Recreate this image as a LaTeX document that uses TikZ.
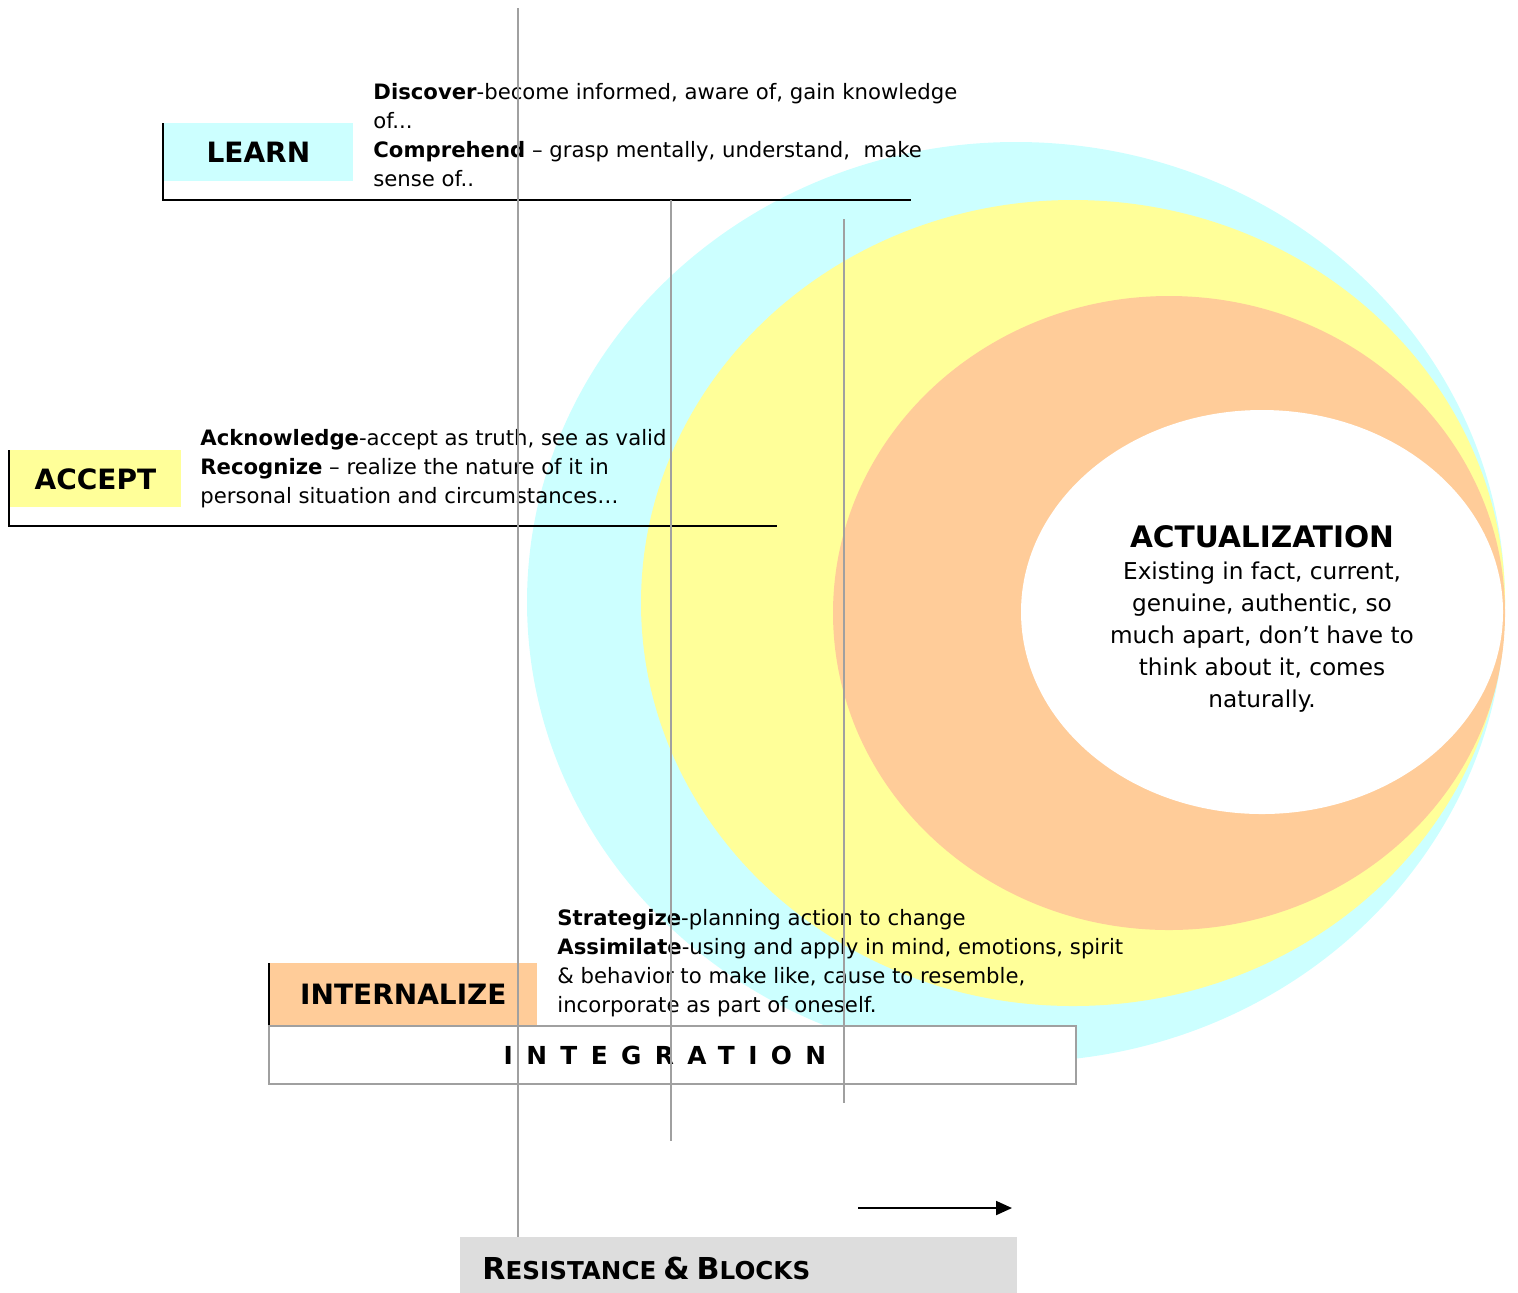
\documentclass[tikz,border=0pt]{standalone}
\usepackage{fontspec}
\setmainfont{DejaVu Sans}
\usetikzlibrary{arrows.meta,positioning}
\definecolor{learncol}{RGB}{204,255,255}
\definecolor{acceptcol}{RGB}{255,255,153}
\definecolor{internalcol}{RGB}{255,204,153}
\definecolor{blockcol}{RGB}{221,221,221}
\definecolor{guide}{RGB}{160,160,160}
\newcommand{\scword}[2]{{\fontsize{15.1}{16}\selectfont #1}{\fontsize{12.3}{16}\selectfont #2}}
\tikzset{
    stage/.style={font=\fontsize{14}{16}\selectfont\bfseries, inner sep=0pt, anchor=north west},
    blurb/.style={font=\fontsize{10.6}{14.5}\selectfont, align=left, inner sep=0pt, anchor=north west},
    rule/.style={line width=1pt},
    guideline/.style={guide, line width=1pt},
  }
\begin{document}
\begin{tikzpicture}[x=0.5pt,y=-0.5pt]
				  \useasboundingbox (0,0) rectangle (1518,1292);
				  %RINGS
				  \fill[learncol] (1016,602) ellipse [x radius=489, y radius=460];
				  \fill[acceptcol] (1073,603) ellipse [x radius=432, y radius=403];
				  \fill[internalcol] (1169,613) ellipse [x radius=336, y radius=317];
				  \fill[white] (1262,612) ellipse [x radius=241, y radius=202];
				  %ACTUALIZATION
				  \node[font=\fontsize{14.8}{16}\selectfont\bfseries, inner sep=0pt] (actual) at (1262,537) {ACTUALIZATION};
				  \node[font=\fontsize{11.6}{16}\selectfont, align=center, inner sep=0pt, below=6.5pt of actual] (actualtext)
				    {Existing in fact, current,\\genuine, authentic, so\\much apart, don’t have to\\think about it, comes\\naturally.};
				  %LEARN
				  \node[stage, fill=learncol, minimum width=95pt, minimum height=29pt] (learn) at (163,123) {LEARN};
				  \coordinate (learnend) at (911,200);
				  \draw[rule] (learn.north west) -- (learn.north west |- learnend) -- (learnend);
				  \node[blurb] (learntext) at (373,83)
				    {\textbf{Discover}-become informed, aware of, gain knowledge\\of...\\\textbf{Comprehend} – grasp mentally, understand,\ \ make\\sense of..};
				  %ACCEPT
				  \node[stage, fill=acceptcol, minimum width=86pt, minimum height=28.5pt] (accept) at (9,450) {ACCEPT};
				  \coordinate (acceptend) at (777,526);
				  \draw[rule] (accept.north west) -- (accept.north west |- acceptend) -- (acceptend);
				  \node[blurb] (accepttext) at (200,429)
				    {\textbf{Acknowledge}-accept as truth, see as valid\\\textbf{Recognize} – realize the nature of it in\\personal situation and circumstances…};
				  %INTERNALIZE
				  \node[stage, fill=internalcol, minimum width=134pt, minimum height=31pt] (internalize) at (269,963) {INTERNALIZE};
				  \draw[rule] (internalize.north west) -- (internalize.south west);
				  \node[blurb] (internaltext) at (557,909)
				    {\textbf{Strategize}-planning action to change\\\textbf{Assimilate}-using and apply in mind, emotions, spirit\\\& behavior to make like, cause to resemble,\\incorporate as part of oneself.};
				  %INTEGRATION
				  \node[draw=guide, line width=1pt, fill=white, anchor=north west, inner sep=0pt,
				        minimum width=403.5pt, minimum height=29pt] (integration) at (268,1025) {};
				  \node[font=\fontsize{12.4}{14}\selectfont\bfseries\addfontfeature{LetterSpace=54}, inner sep=0pt,
				        xshift=-3.8pt] (integlabel) at (integration.center) {INTEGRATION};
				  %RESISTANCE
				  \node[fill=blockcol, anchor=north west, inner sep=0pt, minimum width=278.5pt, minimum height=31pt] (blocks) at (460,1237) {};
				  \node[anchor=west, inner sep=0pt, font=\bfseries, right=11pt of blocks.west] (blockslabel) {\scword{R}{ESISTANCE} \scword{\&}{} \scword{B}{LOCKS}};
				  %arrow
				  \coordinate (arrowtail) at (858,1208);
				  \coordinate (arrowtip) at (1012,1208);
				  \draw[rule, -{Triangle[length=8pt,width=7pt]}] (arrowtail) -- (arrowtip);
				  %guides
				  \coordinate (guideA) at (518,8);
				  \coordinate (guideB) at (671,200);
				  \coordinate (guideC) at (844,219);
				  \draw[guideline] (guideA) -- (guideA |- blocks.north);
				  \draw[guideline] (guideB) -- ++(0,941);
				  \draw[guideline] (guideC) -- ++(0,884);
				  \end{tikzpicture}
\end{document}
